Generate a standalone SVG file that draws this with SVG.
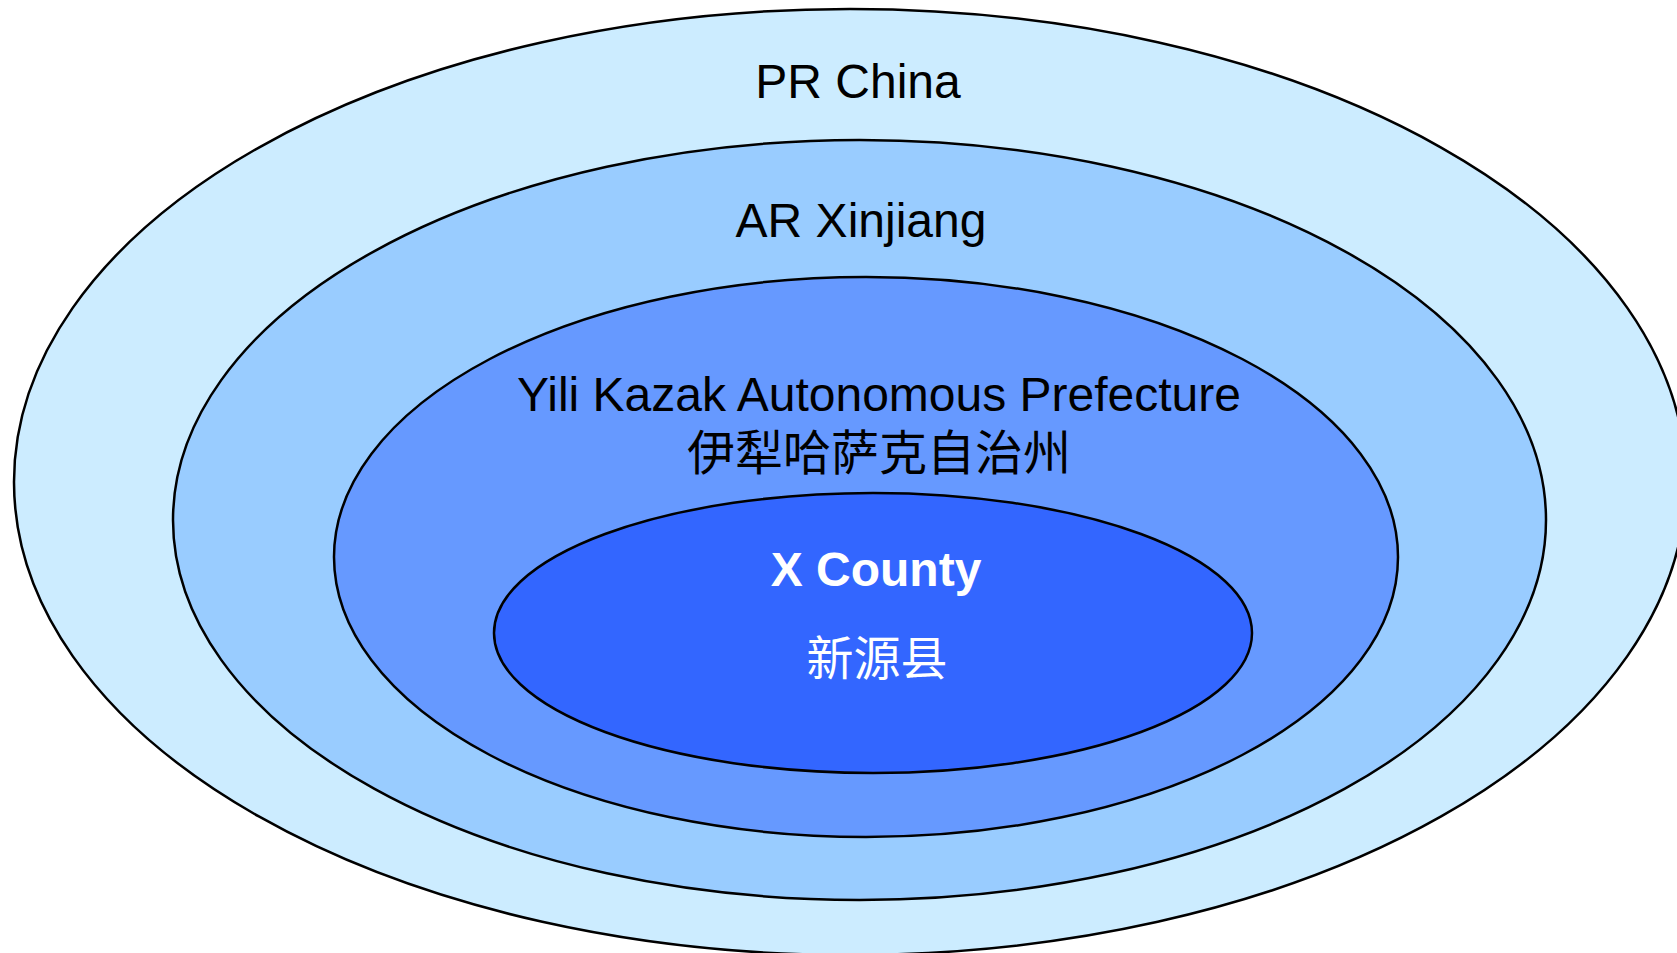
<svg xmlns="http://www.w3.org/2000/svg" width="1677" height="953" viewBox="0 0 1677 953">
<style>
.e{stroke:#000;stroke-width:2.5}
.t{font-family:"Liberation Sans",Arial,sans-serif;font-size:48px;text-anchor:middle;fill:#000}
.c{font-family:"Noto Sans CJK SC","Noto Sans CJK JP",sans-serif;font-size:47px;text-anchor:middle}
</style>
<rect width="1677" height="953" fill="#fff"/>
<g id="china">
<ellipse class="e" cx="850" cy="482" rx="836" ry="473" fill="#CCECFF"/>
<text class="t" x="858" y="98">PR China</text>
</g>
<g id="xinjiang">
<ellipse class="e" cx="859.5" cy="520" rx="686.5" ry="380" fill="#99CCFF"/>
<text class="t" x="861" y="237">AR Xinjiang</text>
</g>
<g id="yili">
<ellipse class="e" cx="866" cy="557" rx="532" ry="280" fill="#6699FF"/>
<text class="t" x="879" y="411">Yili Kazak Autonomous Prefecture</text>
<text class="c" x="879" y="470" fill="#000" style="font-size:48px">伊犁哈萨克自治州</text>
</g>
<g id="county">
<ellipse class="e" cx="873" cy="633" rx="379" ry="140" fill="#3366FF"/>
<text class="t" x="876" y="586" style="font-weight:bold;fill:#fff">X County</text>
<text class="c" x="877" y="675" fill="#fff">新源县</text>
</g>
<g id="connectors"/>
</svg>
